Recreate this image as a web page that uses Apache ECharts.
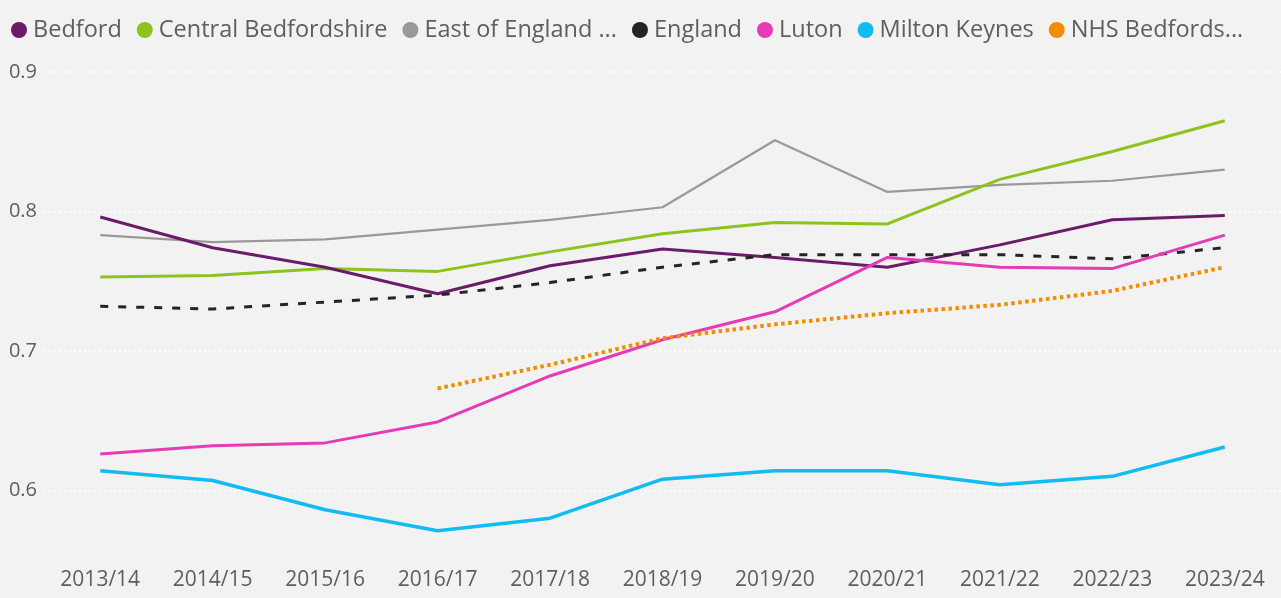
<!DOCTYPE html>
<html>
<head>
<meta charset="utf-8">
<script src="https://cdn.jsdelivr.net/npm/echarts@6/dist/echarts.min.js"></script>
<style>
  html, body { margin: 0; padding: 0; background: #F2F2F2; }
  #chart { width: 1281px; height: 598px; }
</style>
</head>
<body>
<div id="chart"></div>
<script>
// Financial years on the x axis
const years = ['2013/14', '2014/15', '2015/16', '2016/17', '2017/18', '2018/19',
               '2019/20', '2020/21', '2021/22', '2022/23', '2023/24'];

// One array per area
const bedford        = [0.796, 0.774, 0.760, 0.741, 0.761, 0.773, 0.767, 0.760, 0.776, 0.794, 0.797];
const centralBeds    = [0.753, 0.754, 0.759, 0.757, 0.771, 0.784, 0.792, 0.791, 0.823, 0.843, 0.865];
const eastOfEngland  = [0.783, 0.778, 0.780, 0.787, 0.794, 0.803, 0.851, 0.814, 0.819, 0.822, 0.830];
const england        = [0.732, 0.730, 0.735, 0.740, 0.749, 0.760, 0.769, 0.769, 0.769, 0.766, 0.774];
const luton          = [0.626, 0.632, 0.634, 0.649, 0.682, 0.708, 0.728, 0.767, 0.760, 0.759, 0.783];
const miltonKeynes   = [0.614, 0.607, 0.586, 0.571, 0.580, 0.608, 0.614, 0.614, 0.604, 0.610, 0.631];
const nhsBeds        = [null, null, null, 0.673, 0.690, 0.709, 0.719, 0.727, 0.733, 0.743, 0.760];

// Y axis tick labels
const yTicks = [0.6, 0.7, 0.8, 0.9];

const FONT = '"Open Sans", "Noto Sans", sans-serif';
const TEXT = '#605E5C';

function line(name, data, color, width, type) {
  return {
    name: name,
    type: 'line',
    data: data,
    symbol: 'none',
    connectNulls: false,
    lineStyle: { color: color, width: width, type: type || 'solid' },
    itemStyle: { color: color },
    emphasis: { disabled: true }
  };
}

const chart = echarts.init(document.getElementById('chart'), null, { renderer: 'canvas' });
chart.setOption({
  backgroundColor: '#F2F2F2',
  animation: false,
  textStyle: { fontFamily: FONT },
  legend: {
    left: 6,
    top: 13,
    icon: 'circle',
    itemWidth: 16,
    itemHeight: 16,
    itemGap: 15,
    textStyle: { color: TEXT, fontSize: 23.5, fontFamily: FONT, padding: [0, 0, 0, 1] },
    data: ['Bedford', 'Central Bedfordshire', 'East of England ...', 'England',
           'Luton', 'Milton Keynes', 'NHS Bedfords...']
  },
  grid: { left: 44, top: 72, width: 1238, height: 488, containLabel: false },
  xAxis: {
    type: 'category',
    data: years,
    boundaryGap: true,
    axisLine: { show: false },
    axisTick: { show: false },
    axisLabel: { color: TEXT, fontSize: 21, fontFamily: FONT, margin: 10, interval: 0 },
    splitLine: { show: false }
  },
  yAxis: {
    type: 'value',
    min: 0.55,
    max: 0.9,
    axisLine: { show: false },
    axisTick: { show: false, customValues: yTicks },
    axisLabel: {
      color: TEXT, fontSize: 20, fontFamily: FONT, margin: 7,
      customValues: yTicks,
      formatter: v => v.toFixed(1)
    },
    splitLine: {
      show: true,
      lineStyle: { color: '#FFFFFF', width: 1.5, type: [2, 3] }
    }
  },
  series: [
    line('East of England ...', eastOfEngland, '#999999', 2.2),
    line('Central Bedfordshire', centralBeds, '#8DC21F', 3),
    line('Bedford', bedford, '#6A1B6A', 3),
    line('England', england, '#252423', 3, [8, 10]),
    line('Luton', luton, '#E53BB5', 3),
    line('Milton Keynes', miltonKeynes, '#11BDF0', 3.5),
    line('NHS Bedfords...', nhsBeds, '#F28C00', 4, [3.5, 3.5])
  ]
});
</script>
</body>
</html>
